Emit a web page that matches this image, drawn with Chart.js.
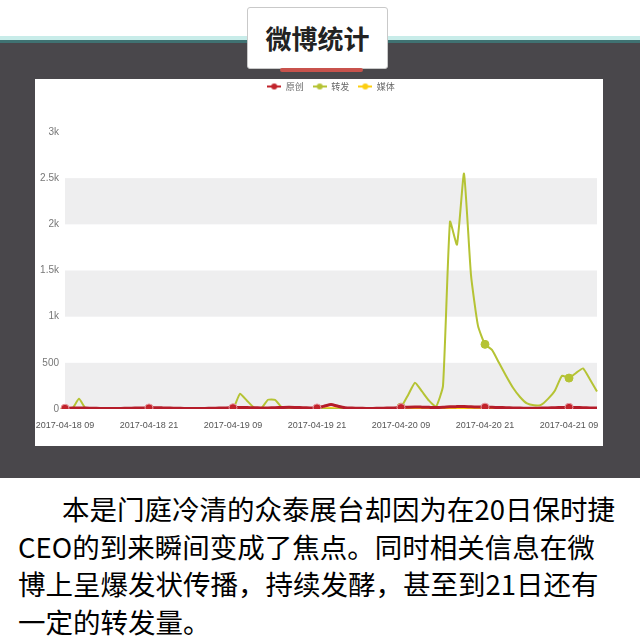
<!DOCTYPE html>
<html lang="zh">
<head>
<meta charset="utf-8">
<title>微博统计</title>
<script src="https://cdn.jsdelivr.net/npm/chart.js@4.4.1/dist/chart.umd.min.js"></script>
<style>
  html, body { margin: 0; padding: 0; }
  body {
    width: 640px; height: 640px; position: relative; overflow: hidden;
    background: #fff; font-family: "Noto Sans CJK SC", sans-serif;
  }
  .stripe-light { position: absolute; left: 0; top: 36px; width: 640px; height: 4px; background: #c8ece9; }
  .stripe-dark { position: absolute; left: 0; top: 40px; width: 640px; height: 3px; background: #3f7272; }
  .stage { position: absolute; left: 0; top: 43px; width: 640px; height: 435px; background: #49474b; }
  .title-box {
    position: absolute; left: 247px; top: 7px; width: 141px; height: 62px;
    background: #fff; border: 1px solid #c9c9c9; border-radius: 3px;
    box-sizing: border-box; text-align: center;
    font-size: 26px; font-weight: 700; line-height: 60px; color: #222;
  }
  .title-bar {
    position: absolute; left: 280px; top: 68px; width: 83px; height: 4px;
    background: #c8524c; border-radius: 2px;
  }
  .panel { position: absolute; left: 35px; top: 79px; width: 568px; height: 367px; background: #fff; }
  .caption {
    position: absolute; left: 18px; top: 490px; width: 620px;
    font-size: 27.5px; line-height: 37.5px; color: #000; white-space: nowrap;
  }
  .caption .first { padding-left: 44px; }
</style>
</head>
<body>
<div class="stripe-light"></div>
<div class="stripe-dark"></div>
<div class="stage"></div>
<div class="title-box">微博统计</div>
<div class="title-bar"></div>
<div class="panel"><canvas id="weibo" width="568" height="367"></canvas></div>
<div class="caption">
  <span class="first">本是门庭冷清的众泰展台却因为在20日保时捷</span><br>
  CEO的到来瞬间变成了焦点。同时相关信息在微<br>
  博上呈爆发状传播，持续发酵，甚至到21日还有<br>
  一定的转发量。
</div>
<script>
// 微博统计：每小时原创 / 转发 / 媒体
const days = ['2017-04-18', '2017-04-19', '2017-04-20', '2017-04-21'];
const startHour = 9;
const hourCount = 77;
const seriesNames = ['原创', '转发', '媒体'];
const yTicks = [0, 500, 1000, 1500, 2000, 2500, 3000];

const original = [
  8, 10, 12, 10, 8, 6, 5, 5, 6, 8, 10, 12,
  12, 14, 12, 10, 8, 6, 5, 5, 6, 8, 10, 12,
  14, 16, 15, 14, 12, 12, 14, 16, 18, 16, 14, 12,
  12, 30, 50, 30, 14, 10, 8, 6, 6, 8, 10, 12,
  16, 20, 22, 20, 18, 16, 18, 24, 26, 28, 24, 22,
  20, 18, 16, 14, 12, 10, 8, 8, 10, 12, 14, 16,
  18, 16, 14, 12, 12
];
const reposts = [
  0, 0, 110, 0, 0, 0, 0, 0, 0, 0, 0, 0,
  0, 0, 0, 0, 0, 0, 0, 0, 0, 0, 0, 0,
  0, 165, 90, 15, 5, 100, 100, 15, 0, 0, 0, 0,
  0, 0, 0, 0, 0, 0, 0, 0, 0, 0, 0, 0,
  20, 150, 285, 190, 90, 25, 250, 2030, 1780, 2550, 1450, 900,
  700, 640, 500, 360, 230, 130, 60, 40, 45, 110, 200, 360,
  335, 390, 440, 320, 190
];
const media = [
  2, 2, 3, 2, 2, 1, 1, 1, 1, 2, 2, 3,
  3, 3, 2, 2, 1, 1, 1, 1, 1, 2, 2, 3,
  3, 4, 4, 3, 3, 3, 4, 4, 5, 4, 3, 3,
  3, 6, 10, 6, 3, 2, 2, 1, 1, 2, 2, 3,
  4, 5, 6, 5, 4, 4, 5, 6, 7, 8, 6, 5,
  5, 4, 4, 3, 3, 2, 2, 2, 2, 3, 3, 4,
  4, 4, 3, 3, 3
];
const colors = ['#c1232b', '#b5c334', '#fcce10'];

const labels = [];
for (let i = 0; i < hourCount; i++) {
  const h = startHour + i;
  labels.push(days[Math.floor(h / 24)] + ' ' + String(h % 24).padStart(2, '0'));
}

// legend icon: short line with a dot
function legendIcon(color) {
  const c = document.createElement('canvas');
  c.width = 14; c.height = 8;
  const g = c.getContext('2d');
  g.strokeStyle = color; g.lineWidth = 2;
  g.beginPath(); g.moveTo(0, 4); g.lineTo(14, 4); g.stroke();
  g.fillStyle = color;
  g.beginPath(); g.arc(7, 4, 3, 0, Math.PI * 2); g.fill();
  return c;
}

const markerRadius = (r) => (ctx) => (ctx.dataIndex % 12 === 0 ? r : 0);

const bandPlugin = {
  id: 'bands',
  beforeDatasetsDraw(chart) {
    const { ctx, chartArea, scales } = chart;
    const y = scales.y;
    ctx.save();
    ctx.fillStyle = '#eeeeef';
    for (let i = 0; i + 1 < yTicks.length; i += 2) {
      const top = y.getPixelForValue(yTicks[i + 1]);
      const bottom = y.getPixelForValue(yTicks[i]);
      ctx.fillRect(chartArea.left, top, chartArea.right - chartArea.left, bottom - top);
    }
    ctx.restore();
  }
};

// legend gets a tall box (pushes the plot down) and is centred over the plot area
const legendSpace = {
  id: 'legendSpace',
  beforeLayout(chart) {
    if (!chart.legend || chart.legend._patched) return;
    const fit = chart.legend.fit;
    chart.legend.fit = function () { fit.call(this); this.height = 59; };
    chart.legend._patched = true;
  },
  afterLayout(chart) {
    if (chart.legend) chart.legend.left = chart.chartArea.left;
  }
};

new Chart(document.getElementById('weibo'), {
  type: 'line',
  data: {
    labels: labels,
    datasets: [original, reposts, media].map((d, k) => ({
      label: seriesNames[k],
      data: d,
      borderColor: k === 0 ? '#b51c2a' : colors[k],
      backgroundColor: colors[k],
      borderWidth: k === 0 ? 3 : 2,
      tension: 0.15,
      pointRadius: markerRadius(4),
      pointHoverRadius: 4,
      pointBackgroundColor: colors[k],
      pointBorderColor: k === 0 ? '#e79aa3' : colors[k],
      pointBorderWidth: 1,
      pointStyle: 'circle'
    }))
  },
  options: {
    responsive: false,
    animation: false,
    layout: { padding: { left: 0, right: 6, top: -6, bottom: 0 } },
    plugins: {
      tooltip: { enabled: false },
      legend: {
        position: 'top',
        labels: {
          usePointStyle: true,
          pointStyleWidth: 14,
          padding: 9,
          color: '#666',
          font: { size: 9, family: '"Noto Sans CJK SC", sans-serif' },
          generateLabels(chart) {
            const items = Chart.defaults.plugins.legend.labels.generateLabels(chart);
            items.forEach((it, k) => { it.pointStyle = legendIcon(colors[k]); });
            return items;
          }
        }
      }
    },
    scales: {
      x: {
        offset: false,
        grid: { display: false, drawTicks: false },
        border: { display: false },
        afterFit(scale) {
          scale.height = 37;
          scale.paddingLeft = 0;
          scale.paddingRight = 0;
        },
        ticks: {
          autoSkip: false,
          maxRotation: 0,
          padding: 11,
          color: '#555',
          font: { size: 9, family: '"Liberation Sans", sans-serif' },
          callback(value, index) {
            return index % 12 === 0 ? this.getLabelForValue(value) : '';
          }
        }
      },
      y: {
        min: 0,
        max: 3000,
        grid: { display: false, drawTicks: false },
        border: { display: false },
        afterFit(scale) { scale.width = 30; },
        ticks: {
          stepSize: 500,
          padding: 6,
          color: '#777',
          font: { size: 10, family: '"Liberation Sans", sans-serif' },
          callback(v) { return v >= 1000 ? (v / 1000) + 'k' : String(v); }
        }
      }
    }
  },
  plugins: [bandPlugin, legendSpace]
});
</script>
</body>
</html>
